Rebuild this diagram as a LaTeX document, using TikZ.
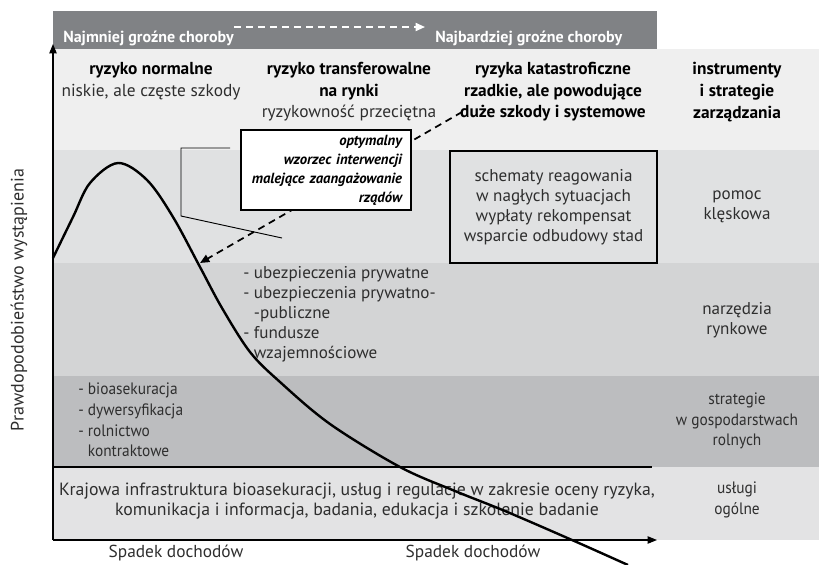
\documentclass[tikz,border=0pt]{standalone}
\usepackage{fontspec}
\setmainfont{PT Sans}
\newfontfamily\narrowfont[FakeStretch=0.93]{PT Sans}
\usetikzlibrary{arrows.meta}
\definecolor{headgray}{HTML}{808285}
\definecolor{rowa}{HTML}{EFEFEF}
\definecolor{rowb}{HTML}{E0E1E2}
\definecolor{rowc}{HTML}{D3D4D5}
\definecolor{rowd}{HTML}{BCBDBF}
\definecolor{rowe}{HTML}{E3E3E4}
\definecolor{ink}{HTML}{2E2E2E}
\begin{document}
\begin{tikzpicture}[x=0.75pt,y=-0.75pt,
    txt/.style={text=ink,inner sep=0,align=center,font=\fontsize{12.8}{15}\selectfont},
    narrow/.style={txt,font=\narrowfont\fontsize{12.4}{15.5}\selectfont},
    colhead/.style={txt,text=black,font=\bfseries\fontsize{13}{16.2}\selectfont},
    headtxt/.style={text=white,inner sep=0,anchor=west,font=\bfseries\fontsize{12}{14}\selectfont},
    axis/.style={-{Triangle[length=7pt,width=5.5pt]},line width=0.8pt},
    dasharrow/.style={-{Triangle[length=7pt,width=6pt]},line width=1.3pt,dash pattern=on 5.25pt off 3.75pt},
  ]
  \useasboundingbox (0,0) rectangle (819,565);
  % rows
  \fill[headgray] (53,11) rectangle (657,49);
  \fill[rowa] (53,49) rectangle (819,150);
  \fill[rowb] (53,150) rectangle (819,263);
  \fill[rowc] (53,263) rectangle (819,376);
  \fill[rowd] (53,376) rectangle (819,467);
  \fill[rowe] (53,467) rectangle (819,540);
  % points
  \coordinate (o) at (53,540);
  \coordinate (ytop) at (53,44);
  \coordinate (xend) at (657,540);
  \coordinate (rule) at (652,467);
  \coordinate (sevlow) at (234,27);
  \coordinate (sevhigh) at (425,27);
  \coordinate (optfrom) at (462,112);
  \coordinate (optto) at (200,263);
  % header
  \node[headtxt] (least) at (63,38) {Najmniej groźne choroby};
  \node[headtxt] (most) at (435,38) {Najbardziej groźne choroby};
  \draw[dasharrow,white] (sevlow) -- (sevhigh);
  % dashed pointer under the box
  \draw[dasharrow] (optfrom) -- (optto);
  \node[draw,fill=white,line width=0.8pt,minimum width=127.5pt,minimum height=60pt,
    text width=114pt,inner xsep=6.75pt,align=right,
    font=\bfseries\itshape\fontsize{11}{14.3}\selectfont] (opt) at (326,170)
    {optymalny\\wzorzec interwencji\\malejące zaangażowanie\\rządów};
  \draw[line width=0.7pt] (230,148) -- (181,148) -- (181,216) -- (282,238);
  \node[draw,line width=0.8pt,minimum width=155.25pt,minimum height=84pt,
    txt] (emerg) at (553.5,207)
    {schematy reagowania\\w nagłych sytuacjach\\wypłaty rekompensat\\wsparcie odbudowy stad};
  % top row
  \node[colhead] (normal) at (151,81) {ryzyko normalne\\\mdseries\color{ink}niskie, ale częste szkody};
  \node[colhead] (transfer) at (349,92) {ryzyko transferowalne\\na rynki\\\mdseries\color{ink}ryzykowność przeciętna};
  \node[colhead] (catastr) at (553,92) {ryzyka katastroficzne\\rzadkie, ale powodujące\\duże szkody i systemowe};
  \node[colhead] (instr) at (737,92) {instrumenty\\i strategie\\zarządzania};
  % right column
  \node[txt] (relief) at (737,207) {pomoc\\klęskowa};
  \node[txt] (market) at (737,320) {narzędzia\\rynkowe};
  \node[narrow] (farm) at (737,421) {strategie\\w gospodarstwach\\rolnych};
  \node[narrow] (general) at (737,500) {usługi\\ogólne};
  % lists
  \node[txt,align=left,anchor=west] (insur) at (243,314)
    {- ubezpieczenia prywatne\\- ubezpieczenia prywatno-\\\hphantom{- }-publiczne\\- fundusze\\\hphantom{- }wzajemnościowe};
  \node[narrow,align=left,anchor=west] (onfarm) at (78,420)
    {- bioasekuracja\\- dywersyfikacja\\- rolnictwo\\\hphantom{- }kontraktowe};
  \node[txt,font=\fontsize{13.3}{15.5}\selectfont] (infra) at (357,501)
    {Krajowa infrastruktura bioasekuracji, usług i regulacje w zakresie oceny ryzyka,\\komunikacja i informacja, badania, edukacja i szkolenie badanie};
  % axes
  \node[txt,font=\fontsize{13}{15}\selectfont] (inca) at (176,553) {Spadek dochodów};
  \node[txt,font=\fontsize{13}{15}\selectfont] (incb) at (473,553) {Spadek dochodów};
  \node[txt,rotate=90,font=\fontsize{13.5}{15}\selectfont] (prob) at (19,300) {Prawdopodobieństwo wystąpienia};
  \draw[line width=0.9pt] (o |- rule) -- (rule);
  \draw[axis] (o) -- (ytop);
  \draw[axis] (o) -- (xend);
  % curve
  \draw[line width=1.8pt] plot[smooth,tension=0.55] coordinates {(53,258) (73,217) (90,183) (118,163) (147,180) (173,217) (200,267) (222,308) (250,352) (280,382) (330,424) (400,467) (455,491) (505,511) (572,540) (628,565)};
\end{tikzpicture}
\end{document}
